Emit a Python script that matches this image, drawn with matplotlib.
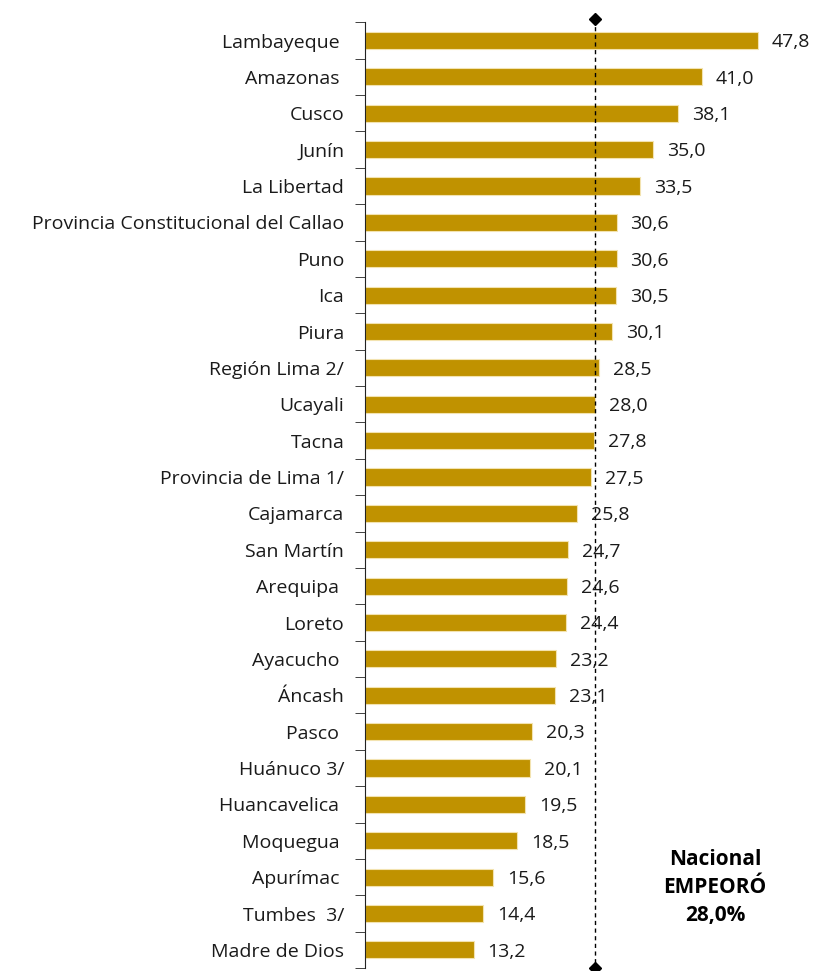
import numpy as np
import matplotlib.pyplot as plt

regiones = ["Lambayeque ", "Amazonas ", "Cusco", "Junín", "La Libertad",
            "Provincia Constitucional del Callao", "Puno", "Ica", "Piura",
            "Región Lima 2/", "Ucayali", "Tacna", "Provincia de Lima 1/",
            "Cajamarca", "San Martín", "Arequipa ", "Loreto", "Ayacucho ",
            "Áncash", "Pasco ", "Huánuco 3/", "Huancavelica ", "Moquegua ",
            "Apurímac ", "Tumbes  3/", "Madre de Dios"]
valores = [47.8, 41.0, 38.1, 35.0, 33.5, 30.6, 30.6, 30.5, 30.1, 28.5, 28.0,
           27.8, 27.5, 25.8, 24.7, 24.6, 24.4, 23.2, 23.1, 20.3, 20.1, 19.5,
           18.5, 15.6, 14.4, 13.2]
nacional = 28.0

plt.rcParams['font.family'] = ['Open Sans', 'DejaVu Sans']

fig = plt.figure(figsize=(8.17, 9.71), dpi=100)
ax = fig.add_axes([0.447, 0.003, 0.553, 0.974])

y = np.arange(len(regiones))
ax.barh(y, valores, height=0.47, color='#C09200', edgecolor='#F3E3B0', linewidth=0.8)

for yi, v in zip(y, valores):
    ax.text(v + 1.7, yi + 0.05, f"{v:.1f}".replace('.', ','), va='center', ha='left',
            fontsize=14, color='#1a1a1a')

ax.set_xlim(0, 55.0)
ax.set_ylim(len(regiones) - 0.5, -0.5)

# linea del promedio nacional con rombos en los extremos
ax.plot([nacional, nacional], [-0.6, len(regiones) - 0.5], ls=(0, (3, 2.5)), color='black',
        lw=1, clip_on=False)
ax.plot([nacional, nacional], [-0.6, len(regiones) - 0.5], ls='none', marker='D',
        ms=6, color='black', clip_on=False)

ax.text(42.6, 23.28, "Nacional\nEMPEORÓ\n28,0%", ha='center', va='center', fontsize=15,
        fontweight='bold', linespacing=1.45)

for s in ['top', 'right', 'bottom']:
    ax.spines[s].set_visible(False)
ax.spines['left'].set_color('#222222')
ax.set_xticks([])
ax.set_yticks(y)
ax.set_yticklabels(regiones, fontsize=14, color='#1a1a1a')
ax.tick_params(axis='y', which='major', length=0, pad=15)
ax.set_yticks(np.arange(-0.5, len(regiones)), minor=True)
ax.tick_params(axis='y', which='minor', length=7, direction='out', color='#222222')

fig.savefig('out.png', dpi=100)
